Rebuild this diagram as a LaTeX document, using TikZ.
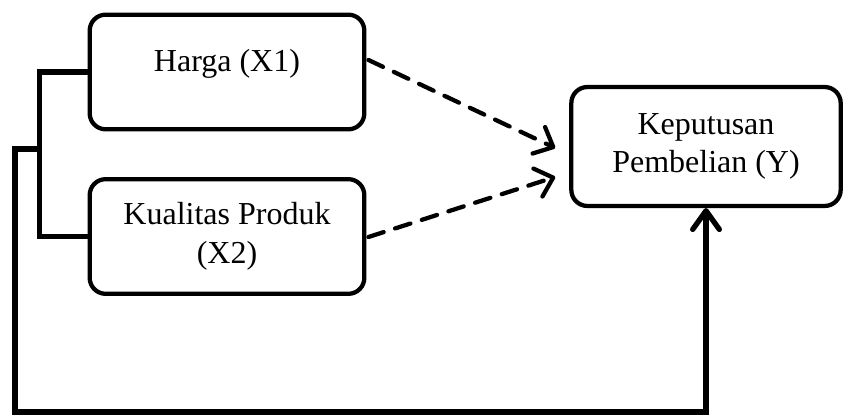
\documentclass[tikz,border=0pt]{standalone}
\usepackage{fontspec}
\setmainfont{Liberation Serif}
\usetikzlibrary{arrows.meta,calc}
\begin{document}
\begin{tikzpicture}[x=0.375pt, y=-0.375pt, font=\fontsize{12}{14.4}\selectfont, line cap=round, line join=round,
  box/.style={draw, line width=1.6pt, rounded corners=6pt, align=center, minimum width=103pt, minimum height=43pt, inner sep=2pt},
  conn/.style={line width=2pt, line cap=butt, line join=miter},
  dasharrow/.style={line width=1.6pt, dash pattern=on 6pt off 4.5pt, -{Straight Barb[length=6pt, width=11pt, round]}}]
\useasboundingbox (0,0) rectangle (846,415);
\node[box, text height=8pt, text depth=8pt] (harga) at (227,72) {Harga (X1)};
\node[box] (kualitas) at (227,236.5) {Kualitas Produk\\(X2)};
\node[box, minimum width=101pt, minimum height=44.6pt] (keputusan) at (706,146.5) {Keputusan\\Pembelian (Y)};

\draw[dasharrow] ($(harga.east)+(2,-12)$) -- ($(keputusan.west)+(-14,1.5)$);
\draw[dasharrow] ($(kualitas.east)+(2,0.5)$) -- ($(keputusan.west)+(-14,30.5)$);

\draw[conn] (harga.west) -- ++(-48,0) |- (kualitas.west);
\coordinate (cabang) at (40,149);
\draw[conn, -{Straight Barb[length=7pt, width=10pt, round]}] (cabang) -- ++(-25,0) -- ++(0,263) -| (keputusan.south);
\end{tikzpicture}
\end{document}
